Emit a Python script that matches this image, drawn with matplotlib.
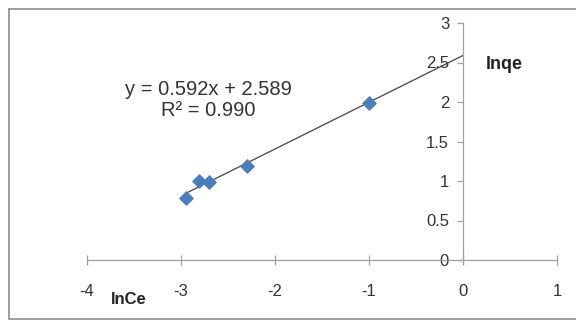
#!/usr/bin/env python3
"""Freundlich isotherm plot: lnqe vs lnCe with linear trendline."""

import matplotlib.pyplot as plt
from matplotlib.lines import Line2D

ln_ce = [-2.95, -2.81, -2.70, -2.30, -1.00]
ln_qe = [0.79, 1.00, 0.99, 1.19, 1.99]
slope = 0.592
intercept = 2.589
r2 = 0.990
x_ticks = [-4, -3, -2, -1, 0, 1]
y_ticks = [0, 0.5, 1, 1.5, 2, 2.5, 3]

plt.rcParams["font.family"] = ["Liberation Sans", "DejaVu Sans"]

fig = plt.figure(figsize=(5.76, 3.22), dpi=100)
ax = fig.add_axes((87 / 576, 62 / 322, 470 / 576, 237 / 322))

ax.scatter(ln_ce, ln_qe, marker="D", s=45, color="#4a7ebb", zorder=3)

x_fit = [min(ln_ce), 0]
ax.plot(x_fit, [slope * x + intercept for x in x_fit], color="#444444", linewidth=0.9, zorder=2)

ax.set_xlim(-4, 1)
ax.set_ylim(0, 3)
ax.set_xticks(x_ticks)
ax.set_yticks(y_ticks)
ax.set_xticklabels([f"{t:g}" for t in x_ticks])
ax.set_yticklabels([f"{t:g}" for t in y_ticks])

for side in ("top", "right"):
    ax.spines[side].set_visible(False)
ax.spines["left"].set_position(("data", 0))
ax.spines["bottom"].set_position(("data", 0))
for side in ("left", "bottom"):
    ax.spines[side].set_color("#a0a0a0")
    ax.spines[side].set_linewidth(0.9)

ax.tick_params(axis="x", direction="inout", length=7, width=0.9, color="#a0a0a0",
               labelsize=12, labelcolor="#333333", pad=14)
ax.tick_params(axis="y", direction="out", length=4, width=0.9, color="#a0a0a0",
               labelsize=12, labelcolor="#333333", pad=6)

ax.text(-2.71, 2.03, f"y = {slope:.3f}x + {intercept:.3f}\nR\u00b2 = {r2:.3f}",
        ha="center", va="center", fontsize=14.5, color="#333333", linespacing=1.15)
ax.text(0.245, 2.47, "lnqe", fontsize=13, fontweight="bold", color="#222222",
        ha="left", va="center")
ax.text(-3.745, -0.5, "lnCe", fontsize=12, fontweight="bold", color="#222222",
        ha="left", va="center")

# chart area border
for xs, ys in (([9 / 576, 9 / 576], [4 / 322, 313 / 322]),
               ([9 / 576, 1], [313 / 322, 313 / 322]),
               ([9 / 576, 1], [3 / 322, 3 / 322])):
    fig.add_artist(Line2D(xs, ys, transform=fig.transFigure, color="#8c8c8c", linewidth=1.2))

fig.savefig("out.png")
